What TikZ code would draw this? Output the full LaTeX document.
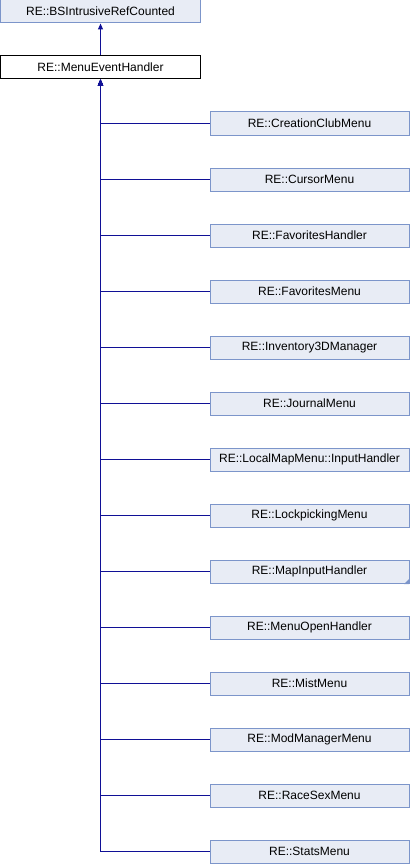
\documentclass[tikz,border=0pt]{standalone}
\usepackage{fontspec}
\setmainfont{Liberation Sans}
\usetikzlibrary{arrows.meta}
\definecolor{boxfill}{RGB}{232,236,245}
\definecolor{boxdraw}{RGB}{124,149,202}
\definecolor{edgecol}{RGB}{16,16,150}
\tikzset{
  cls/.style={draw=boxdraw, fill=boxfill, line width=1pt, minimum height=23pt, inner sep=0pt, font=\fontsize{12}{14}\selectfont},
  parentbox/.style={cls, minimum width=200pt},
  childbox/.style={cls, minimum width=199pt},
  mainbox/.style={parentbox, draw=black, fill=white},
  edge/.style={draw=edgecol, line width=1pt, -{Triangle[length=6pt,width=5pt]}},
  corner/.style={fill=boxdraw, draw=none}
}
\begin{document}
\begin{tikzpicture}[x=1pt,y=-1pt]
\useasboundingbox (0,0) rectangle (410,864);
\node[parentbox] (top) at (100.5,11.5) {RE::BSIntrusiveRefCounted};
\node[mainbox] (meh) at (100.5,67.5) {RE::MenuEventHandler};
\draw[edge] (meh.north) -- (top.south);
\foreach \name [count=\i from 0] in {
  RE::CreationClubMenu, RE::CursorMenu, RE::FavoritesHandler, RE::FavoritesMenu,
  RE::Inventory3DManager, RE::JournalMenu, RE::LocalMapMenu::InputHandler,
  RE::LockpickingMenu, RE::MapInputHandler, RE::MenuOpenHandler, RE::MistMenu,
  RE::ModManagerMenu, RE::RaceSexMenu, RE::StatsMenu} {
  \node[childbox] (c\i) at (309.5,{123.5+56*\i}) {\name};
  \draw[edge] (c\i.west) -| (meh.south);
}
\fill[corner] ([xshift=-0.5pt,yshift=-0.5pt]c8.south east) -- ++(0,-5) -- ++(-5,5) -- cycle;
\end{tikzpicture}
\end{document}
